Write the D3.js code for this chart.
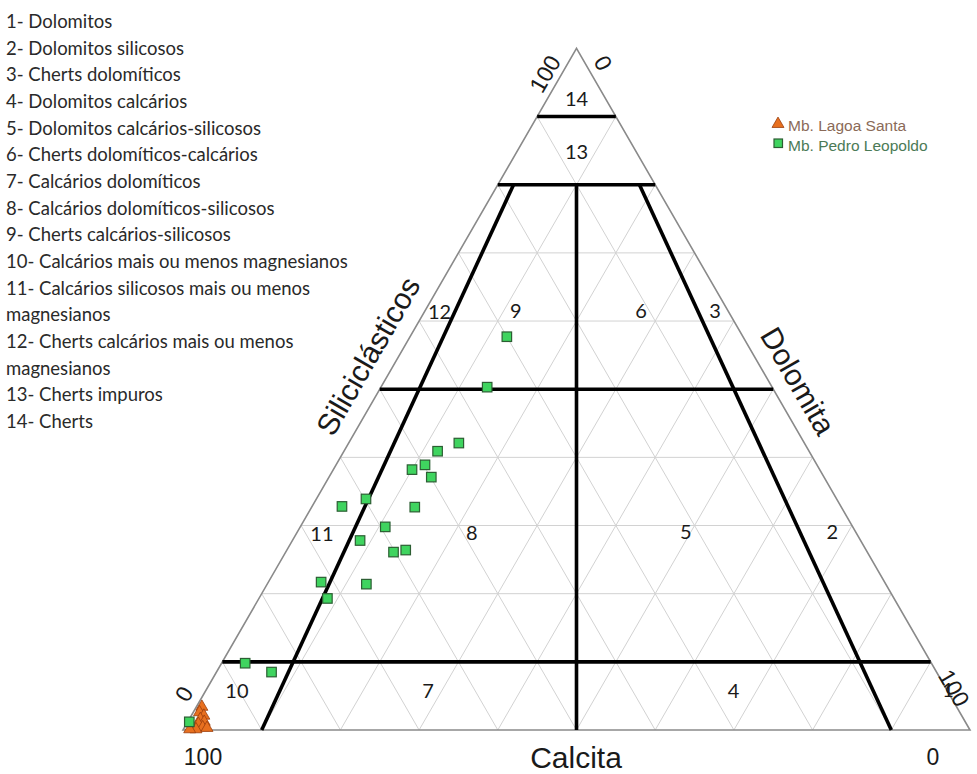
<!DOCTYPE html>
<html>
<head>
<meta charset="utf-8">
<script src="https://cdn.jsdelivr.net/npm/d3@7"></script>
<style>
  html, body { margin: 0; padding: 0; background: #fff; }
  svg { display: block; }
</style>
</head>
<body>
<svg id="chart" width="977" height="774"></svg>
<script>
// Classification legend (left column)
const classNames = [
  "1- Dolomitos",
  "2- Dolomitos silicosos",
  "3- Cherts dolomíticos",
  "4- Dolomitos calcários",
  "5- Dolomitos calcários-silicosos",
  "6- Cherts dolomíticos-calcários",
  "7- Calcários dolomíticos",
  "8- Calcários dolomíticos-silicosos",
  "9- Cherts calcários-silicosos",
  "10- Calcários mais ou menos magnesianos",
  "11- Calcários silicosos mais ou menos",
  "magnesianos",
  "12- Cherts calcários mais ou menos",
  "magnesianos",
  "13- Cherts impuros",
  "14- Cherts"
];

// Field numbers and their anchor composition (% Siliciclásticos, % Dolomita)
const fieldIds  = ["14", "13", "12", "9", "6", "3", "11", "8", "5", "2", "10", "7", "4", "1"];
const fieldSi   = [92.7, 85.0, 61.4, 61.6, 61.6, 61.6, 28.9, 29.0, 29.2, 29.2, 5.9, 5.9, 5.9, 6.0];
const fieldDol  = [3.65, 7.5, 1.9, 11.5, 27.4, 36.8, 3.2, 22.2, 49.3, 67.9, 3.9, 28.2, 67.0, 94.2];

// Class boundaries
const siBoundaries = [10, 50, 80, 90];          // constant-Siliciclásticos lines
const ratioBoundaries = [10, 50, 90];           // Dol/(Dol+Cal) % lines, below 80% Si
const ratioTop = 80;

// Series: Mb. Lagoa Santa (%)
const lagoaSi  = [3.4, 2.6, 2.1, 1.6, 1.2, 0.9, 0.4, 0.1, 0.1, 0.3];
const lagoaDol = [0.7, 0.8, 1.6, 1.4, 2.1, 1.5, 2.3, 1.6, 0.8, 2.9];
const lagoaCal = [95.9, 96.6, 96.3, 97.0, 96.7, 97.6, 97.3, 98.3, 99.1, 96.8];

// Series: Mb. Pedro Leopoldo (%)
const pedroSi  = [57.7, 50.3, 42.1, 40.9, 38.9, 38.2, 37.1, 32.8, 33.9, 32.7, 29.8, 27.8, 26.1, 26.4, 21.7, 21.4, 19.3, 9.8, 8.5, 1.2];
const pedroDol = [12.3, 13.5, 14.0, 11.9, 11.3, 10.0, 13.0, 3.8, 6.3, 13.1, 10.8, 8.6, 13.7, 15.1, 6.7, 12.6, 8.7, 3.0, 7.0, 0.2];
const pedroCal = [30.0, 36.2, 43.9, 47.2, 49.8, 51.8, 49.9, 63.4, 59.8, 54.2, 59.4, 63.6, 60.2, 58.5, 71.6, 66.0, 72.0, 87.2, 84.5, 98.6];

const seriesNames = ["Mb. Lagoa Santa", "Mb. Pedro Leopoldo"];

// ---------------------------------------------------------------
const svg = d3.select("#chart");
svg.append("rect").attr("width", 977).attr("height", 774).attr("fill", "#fff");

// Ternary frame: base along Dolomita (0 at left, 100 at right), height along Siliciclásticos
const xBase = d3.scaleLinear().domain([0, 100]).range([183, 970]);
const ySi   = d3.scaleLinear().domain([0, 100]).range([730, 48.4]);
const halfW = (xBase(100) - xBase(0)) / 2;

// project (si, dol) -> pixel
function proj(si, dol) {
  return [xBase(dol) + (si / 100) * halfW, ySi(si)];
}

const line = d3.line();

// Light 10% grid in all three directions
const grid = svg.append("g").attr("fill", "none").attr("stroke", "#d2d2d2").attr("stroke-width", 1);
d3.range(10, 100, 10).forEach(k => {
  grid.append("path").attr("d", line([proj(k, 0), proj(k, 100 - k)]));       // constant Si
  grid.append("path").attr("d", line([proj(0, k), proj(100 - k, k)]));       // constant Dol
  grid.append("path").attr("d", line([proj(0, 100 - k), proj(100 - k, 0)])); // constant Cal
});

// Outer triangle
svg.append("path")
  .attr("d", line([proj(0, 0), proj(0, 100), proj(100, 0)]) + "Z")
  .attr("fill", "none").attr("stroke", "#8a8a8a").attr("stroke-width", 1.6);

// Classification boundaries
const bounds = svg.append("g").attr("fill", "none").attr("stroke", "#000").attr("stroke-width", 3.6);
siBoundaries.forEach(s => {
  bounds.append("path").attr("d", line([proj(s, 0), proj(s, 100 - s)]));
});
ratioBoundaries.forEach(r => {
  const top = proj(ratioTop, (100 - ratioTop) * r / 100);
  const bot = proj(0, r);
  bounds.append("path").attr("d", line([bot, top]));
});

// Field numbers
svg.append("g").selectAll("text").data(fieldIds).join("text")
  .attr("x", (d, i) => proj(fieldSi[i], fieldDol[i])[0])
  .attr("y", (d, i) => proj(fieldSi[i], fieldDol[i])[1])
  .attr("text-anchor", "middle")
  .attr("dominant-baseline", "central")
  .attr("font-family", "Lato, 'Open Sans', sans-serif")
  .attr("font-size", 20)
  .attr("fill", "#1a1a1a")
  .text(d => d);

// Axis titles
const axisFont = "'Liberation Sans', Arial, sans-serif";
svg.append("text")
  .attr("transform", "translate(368,356) rotate(-60)")
  .attr("text-anchor", "middle").attr("dominant-baseline", "central")
  .attr("font-family", axisFont).attr("font-size", 30).attr("fill", "#1a1a1a")
  .text("Siliciclásticos");
svg.append("text")
  .attr("transform", "translate(798,381) rotate(60)")
  .attr("text-anchor", "middle").attr("dominant-baseline", "central")
  .attr("font-family", axisFont).attr("font-size", 30).attr("fill", "#1a1a1a")
  .text("Dolomita");
svg.append("text")
  .attr("x", 576).attr("y", 768)
  .attr("text-anchor", "middle")
  .attr("font-family", axisFont).attr("font-size", 30).attr("fill", "#1a1a1a")
  .text("Calcita");

// Axis end values
const ends = [
  { t: "100", x: 545, y: 74,  r: -60 },
  { t: "0",   x: 184, y: 694, r: -60 },
  { t: "0",   x: 603, y: 63,  r: 60 },
  { t: "100", x: 954, y: 688, r: 60 },
  { t: "100", x: 203, y: 757, r: 0 },
  { t: "0",   x: 933, y: 757, r: 0 }
];
svg.append("g").selectAll("text").data(ends).join("text")
  .attr("transform", d => `translate(${d.x},${d.y}) rotate(${d.r})`)
  .attr("text-anchor", "middle").attr("dominant-baseline", "central")
  .attr("font-family", axisFont).attr("font-size", 23).attr("fill", "#1a1a1a")
  .text(d => d.t);

// Markers
const triSym = d3.symbol().type(d3.symbolTriangle).size(62);
const sqSize = 9.5;

svg.append("g").selectAll("path").data(lagoaSi).join("path")
  .attr("d", triSym)
  .attr("transform", (d, i) => {
    const p = proj(lagoaSi[i], lagoaDol[i]);
    return `translate(${p[0]},${p[1]})`;
  })
  .attr("fill", "#e8701f").attr("stroke", "#9a3d0c").attr("stroke-width", 0.8);

svg.append("g").selectAll("rect").data(pedroSi).join("rect")
  .attr("x", (d, i) => proj(pedroSi[i], pedroDol[i])[0] - sqSize / 2)
  .attr("y", (d, i) => proj(pedroSi[i], pedroDol[i])[1] - sqSize / 2)
  .attr("width", sqSize).attr("height", sqSize)
  .attr("fill", "#3fd45f").attr("stroke", "#2c5e33").attr("stroke-width", 1.2);

// Series legend
const leg = svg.append("g").attr("font-family", axisFont).attr("font-size", 15.5);
leg.append("path").attr("d", triSym).attr("transform", "translate(778,124)")
  .attr("fill", "#e8701f").attr("stroke", "#9a3d0c").attr("stroke-width", 0.8);
leg.append("rect").attr("x", 774).attr("y", 139).attr("width", 8.5).attr("height", 8.5)
  .attr("fill", "#3fd45f").attr("stroke", "#2c5e33").attr("stroke-width", 1.2);
leg.append("text").attr("x", 788).attr("y", 130.5).attr("fill", "#8a6a58").text(seriesNames[0]);
leg.append("text").attr("x", 788).attr("y", 150.5).attr("fill", "#4b7a56").text(seriesNames[1]);

// Classification list
svg.append("g").selectAll("text").data(classNames).join("text")
  .attr("x", 6)
  .attr("y", (d, i) => 28 + i * 26.67)
  .attr("font-family", "Lato, 'Open Sans', sans-serif")
  .attr("font-size", 18.5)
  .attr("fill", "#2a2a2a")
  .text(d => d);
</script>
</body>
</html>
